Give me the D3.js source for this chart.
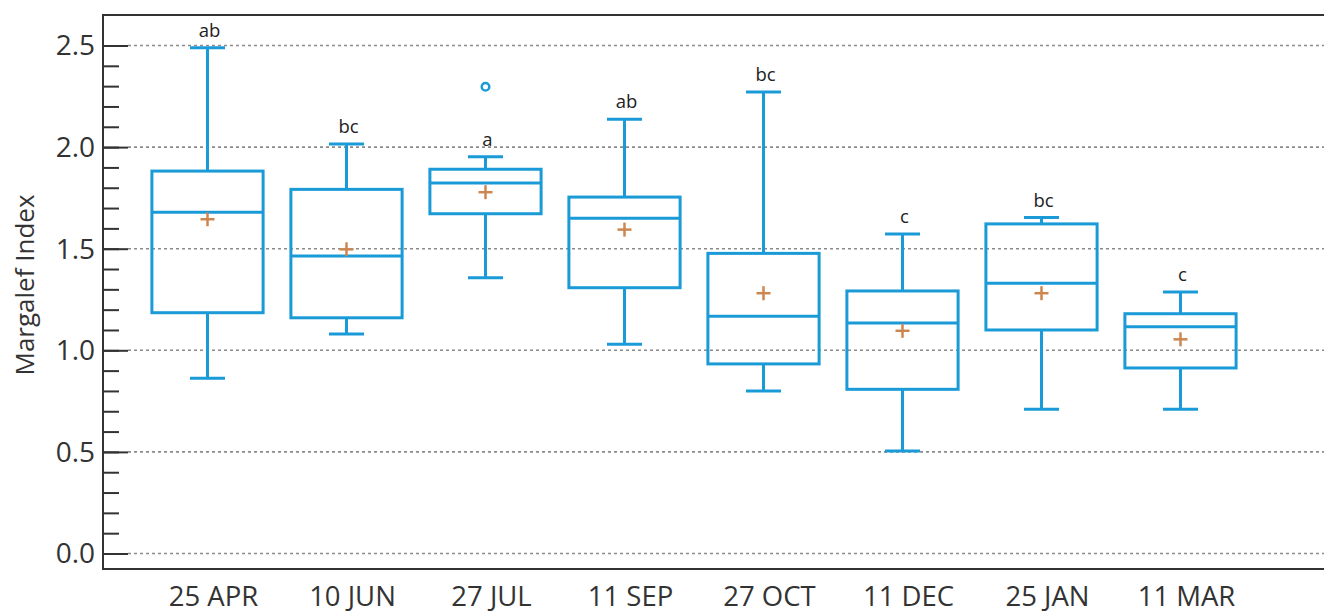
<!DOCTYPE html>
<html>
<head>
<meta charset="utf-8">
<script src="https://cdn.jsdelivr.net/npm/d3@7"></script>
<style>
  html, body { margin: 0; padding: 0; background: #fff; }
  svg { display: block; font-family: "Open Sans", "Noto Sans", sans-serif; }
</style>
</head>
<body>
<svg id="chart" width="1324" height="611"></svg>
<script>
// Sampling dates
const dates = ["25 APR", "10 JUN", "27 JUL", "11 SEP", "27 OCT", "11 DEC", "25 JAN", "11 MAR"];
// Box-plot statistics of the Margalef index per date
const whiskerLow  = [0.862, 1.080, 1.357, 1.030, 0.800, 0.504, 0.710, 0.710];
const quartile1   = [1.185, 1.160, 1.672, 1.308, 0.933, 0.808, 1.100, 0.913];
const medians     = [1.679, 1.464, 1.823, 1.650, 1.167, 1.134, 1.330, 1.116];
const quartile3   = [1.882, 1.792, 1.891, 1.754, 1.477, 1.292, 1.622, 1.180];
const whiskerHigh = [2.489, 2.015, 1.953, 2.137, 2.271, 1.572, 1.653, 1.287];
const means       = [1.645, 1.497, 1.778, 1.594, 1.281, 1.096, 1.281, 1.054];
// Outlying observations: [date, value]
const outliers    = [["27 JUL", 2.297]];
// Significance-group letters
const groupLetters = ["ab", "bc", "a", "ab", "bc", "c", "bc", "c"];
// Axis ticks
const majorTicks = [0.0, 0.5, 1.0, 1.5, 2.0, 2.5];
const minorTicks = d3.range(0, 26).map(i => i / 10);

const W = 1324;
const frame = { left: 103, top: 15, bottom: 569, right: W };
const blue = "#1a9bd8";
const orange = "#cc8650";
const ink = "#333";

const svg = d3.select("#chart");

const y = d3.scaleLinear().domain([0, 2.5]).range([553.5, 45.5]);
const x = d3.scaleBand().domain(dates).range([138, 1250])
  .paddingInner(0.2).paddingOuter(0.1);
const cx = d => x(d) + x.bandwidth() / 2;
const capW = 35;

// Dotted gridlines at the major ticks
svg.append("g").selectAll("line").data(majorTicks).join("line")
  .attr("x1", frame.left + 25).attr("x2", frame.right)
  .attr("y1", d => y(d)).attr("y2", d => y(d))
  .attr("stroke", "#8a8a8a").attr("stroke-width", 1.6)
  .attr("stroke-dasharray", "3,3");

// Frame: left axis, top and bottom rules
const fg = svg.append("g").attr("stroke", ink).attr("stroke-width", 2).attr("fill", "none");
fg.append("line").attr("x1", frame.left).attr("x2", frame.left).attr("y1", frame.top - 1).attr("y2", frame.bottom + 1);
fg.append("line").attr("x1", frame.left).attr("x2", frame.right).attr("y1", frame.top).attr("y2", frame.top);
fg.append("line").attr("x1", frame.left).attr("x2", frame.right).attr("y1", frame.bottom).attr("y2", frame.bottom);

// Y axis via d3.axisRight so the ticks point inwards
const yMinor = d3.axisRight(y).tickValues(minorTicks).tickSize(16).tickFormat("");
const yMajor = d3.axisRight(y).tickValues(majorTicks).tickSize(25).tickFormat("");
[yMinor, yMajor].forEach(ax => {
  const g = svg.append("g").attr("transform", `translate(${frame.left},0)`).call(ax);
  g.select(".domain").remove();
  g.selectAll(".tick line").attr("stroke", ink).attr("stroke-width", 2);
});
svg.append("g").selectAll("text").data(majorTicks).join("text")
  .attr("x", 95).attr("y", d => y(d)).attr("dy", "0.35em")
  .attr("text-anchor", "end").attr("font-size", 28).attr("fill", ink)
  .text(d => d3.format(".1f")(d));

// Y title
svg.append("text")
  .attr("transform", `translate(34,${285}) rotate(-90)`)
  .attr("text-anchor", "middle").attr("font-size", 26).attr("fill", ink)
  .text("Margalef Index");

// X labels
const xAxis = d3.axisBottom(x).tickSize(0);
const xg = svg.append("g").attr("transform", `translate(6,${frame.bottom})`).call(xAxis);
xg.select(".domain").remove();
xg.selectAll(".tick text").attr("font-size", 27.5).attr("fill", ink)
  .attr("font-family", "'Open Sans', sans-serif").attr("dy", 0).attr("y", 37);

// Boxes
const boxes = svg.append("g").attr("stroke", blue).attr("stroke-width", 3).attr("fill", "none");
dates.forEach((d, i) => {
  const c = cx(d);
  const g = boxes.append("g");
  // whiskers
  g.append("line").attr("x1", c).attr("x2", c).attr("y1", y(quartile3[i])).attr("y2", y(whiskerHigh[i]));
  g.append("line").attr("x1", c).attr("x2", c).attr("y1", y(quartile1[i])).attr("y2", y(whiskerLow[i]));
  g.append("line").attr("x1", c - capW / 2).attr("x2", c + capW / 2).attr("y1", y(whiskerHigh[i])).attr("y2", y(whiskerHigh[i]));
  g.append("line").attr("x1", c - capW / 2).attr("x2", c + capW / 2).attr("y1", y(whiskerLow[i])).attr("y2", y(whiskerLow[i]));
  // box
  g.append("rect").attr("x", x(d)).attr("width", x.bandwidth())
    .attr("y", y(quartile3[i])).attr("height", y(quartile1[i]) - y(quartile3[i]));
  // median
  g.append("line").attr("x1", x(d)).attr("x2", x(d) + x.bandwidth())
    .attr("y1", y(medians[i])).attr("y2", y(medians[i]));
});

// Means
const mg = svg.append("g").attr("stroke", orange).attr("stroke-width", 2.5);
dates.forEach((d, i) => {
  const c = cx(d), m = y(means[i]);
  mg.append("line").attr("x1", c - 7).attr("x2", c + 7).attr("y1", m).attr("y2", m);
  mg.append("line").attr("x1", c).attr("x2", c).attr("y1", m - 7).attr("y2", m + 7);
});

// Outliers
svg.append("g").selectAll("circle").data(outliers).join("circle")
  .attr("cx", d => cx(d[0])).attr("cy", d => y(d[1])).attr("r", 3.8)
  .attr("fill", "none").attr("stroke", blue).attr("stroke-width", 2.5);

// Group letters above the upper whisker
svg.append("g").selectAll("text").data(dates).join("text")
  .attr("x", d => cx(d) + 2)
  .attr("y", (d, i) => y(whiskerHigh[i]) - 11)
  .attr("text-anchor", "middle").attr("font-size", 18.5).attr("fill", "#222")
  .text((d, i) => groupLetters[i]);
</script>
</body>
</html>
